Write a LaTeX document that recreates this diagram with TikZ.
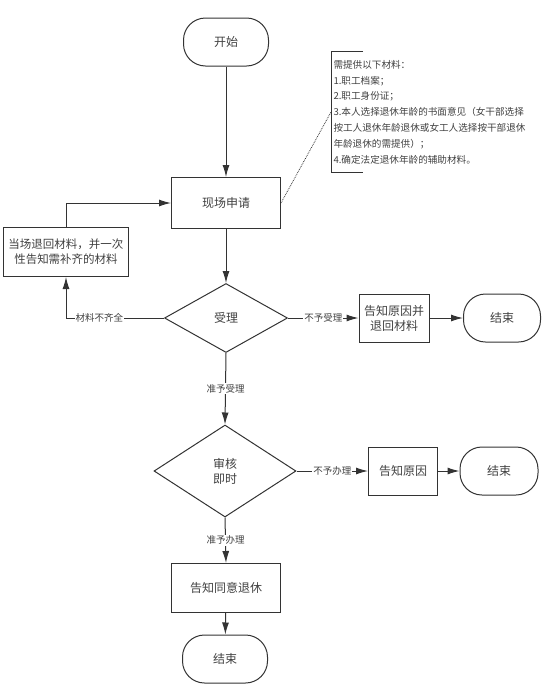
\documentclass[tikz,border=0pt]{standalone}
\usepackage{fontspec}
\newfontfamily\cjk{Noto Sans CJK SC}
\usetikzlibrary{positioning, arrows.meta, shapes.geometric}

\begin{document}
\begin{tikzpicture}[
    x=1pt, y=-1pt,
    >={Latex[length=12pt,width=7pt]},
    line width=1pt,
    font=\cjk\fontsize{12}{15}\selectfont,
    every node/.style={text=black!75},
    terminal/.style={draw=black!80, rectangle, rounded corners=22pt,
        minimum width=85pt, minimum height=48pt, inner sep=0pt},
    process/.style={draw=black!80, rectangle, align=center,
        minimum width=109pt, minimum height=51pt, inner sep=2pt},
    decision/.style={draw=black!80, diamond, aspect=1.8, align=center, inner sep=0pt},
    lbl/.style={fill=white, inner sep=1pt, font=\cjk\fontsize{9.5}{11}\selectfont}
]
\useasboundingbox (0,0) rectangle (544,686);

% main column
\node[terminal] (start) at (226,42) {开始};
\node[process] (apply) at (226,203) {现场申请};
\node[decision, minimum width=123pt, minimum height=69pt] (accept) at (226,318) {受理};
\node[decision, minimum width=142pt, minimum height=92pt] (review) at (225,471) {审核\\即时};
\node[process, minimum height=49pt] (agree) at (226,588) {告知同意退休};
\node[terminal] (endc) at (225,659) {结束};

% materials returned
\node[process, minimum width=125pt, minimum height=49pt, inner sep=1pt,
    font=\cjk\fontsize{11.5}{15}\selectfont] (back) at (66,252)
    {当场退回材料，并一次\\性告知需补齐的材料};

% rejected branches
\node[process, minimum width=70pt, minimum height=48pt] (refuseA) at (394,318)
    {告知原因并\\退回材料};
\node[terminal, minimum width=77pt] (endA) at (502,318) {结束};
\node[process, minimum width=69pt, minimum height=48pt] (refuseB) at (403,471) {告知原因};
\node[terminal, minimum width=78pt] (endB) at (499,471) {结束};

% required materials note
\node[anchor=west, align=left, inner xsep=2pt, minimum height=120pt,
    font=\cjk\fontsize{9.6}{15.8}\selectfont] (note) at (331,112)
{需提供以下材料：\\
1.职工档案；\\
2.职工身份证；\\
3.本人选择退休年龄的书面意见（女干部选择\\
按工人退休年龄退休或女工人选择按干部退休\\
年龄退休的需提供）；\\
4.确定法定退休年龄的辅助材料。};
\draw[black!80] ([xshift=32pt]note.north west) -- (note.north west)
    -- (note.south west) -- ([xshift=32pt]note.south west);
\draw[black!80, line width=0.8pt, densely dotted] (apply.east) -- (note.west);

% connectors
\draw[->, black!80] (start) -- (apply);
\draw[->, black!80] (apply) -- (accept);
\draw[->, black!80] (accept.east) -- node[lbl] {不予受理} (refuseA.west);
\draw[->, black!80] (refuseA) -- (endA);
\draw[->, black!80] (accept.west) -| node[lbl, pos=0.33] {材料不齐全} (back.south);
\draw[->, black!80] (back.north) |- (apply.west);
\draw[->, black!80] (accept.south) -- node[lbl] {准予受理} (review.north);
\draw[->, black!80] (review.east) -- node[lbl] {不予办理} (refuseB.west);
\draw[->, black!80] (refuseB) -- (endB);
\draw[->, black!80] (review.south) -- node[lbl] {准予办理} (agree.north);
\draw[->, black!80] (agree) -- (endc);

\end{tikzpicture}
\end{document}
